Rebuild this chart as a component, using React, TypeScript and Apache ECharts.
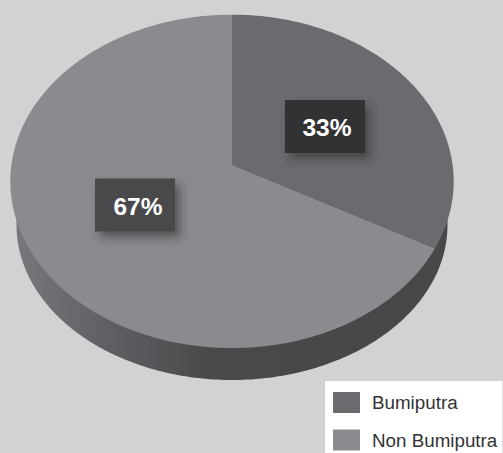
import React, { useEffect, useRef } from "react";
import * as echarts from "echarts";

const categories = ["Bumiputra", "Non Bumiputra"];
const shares = [33, 67];
const colors = ["#6a6b6f", "#8a8b8f"];
const labelFills = ["#333334", "#48494b"];
const labelCentres = [[325, 126.5], [135, 205]];
const labelTextOffsets = [[2, 1], [3, 1]];

// perspective projection of the pie's top face
const APEX = [232, 165];
const C = -0.0981, A = 148.9, K = 220.6;
const project = (u: number, v: number) => {
  const d = C * v + 1;
  return [APEX[0] + (K * u) / d, (A * v + APEX[1]) / d];
};
const total = shares.reduce((a, b) => a + b, 0);

const slicePoints = (i: number) => {
  const before = shares.slice(0, i).reduce((a, b) => a + b, 0);
  const a0 = (before / total) * Math.PI * 2;
  const a1 = ((before + shares[i]) / total) * Math.PI * 2;
  const pts: number[][] = [APEX];
  const steps = Math.ceil(shares[i] * 4);
  for (let k = 0; k <= steps; k++) {
    const t = a0 + ((a1 - a0) * k) / steps;
    pts.push(project(Math.sin(t), -Math.cos(t)));
  }
  return pts;
};

// lower rim of the disc
const sidePoints = () => {
  const cx = 232, cy = 225, rx = 215.5, ry = 155;
  const pts: number[][] = [];
  for (let k = 0; k < 360; k++) {
    const t = (k / 360) * Math.PI * 2;
    pts.push([cx + rx * Math.cos(t), cy + ry * Math.sin(t)]);
  }
  return pts;
};

const sliceSeries = (i: number) => ({
  type: "custom",
  name: categories[i],
  coordinateSystem: "none",
  data: [shares[i]],
  itemStyle: { color: colors[i] },
  z: 2 + i,
  renderItem: (_: any, api: any) => {
    const [lx, ly] = labelCentres[i];
    const [ox, oy] = labelTextOffsets[i];
    return {
      type: "group",
      children: [
        { type: "polygon", shape: { points: slicePoints(i) }, style: { fill: colors[i] } },
        {
          type: "rect",
          shape: { x: lx - 40, y: ly - 26.5, width: 80, height: 53 },
          style: {
            fill: labelFills[i],
            shadowBlur: 10,
            shadowOffsetX: 5,
            shadowOffsetY: 6,
            shadowColor: "rgba(40,40,42,0.55)",
          },
        },
        {
          type: "text",
          x: lx + ox,
          y: ly + oy,
          style: {
            text: `${api.value(0)}%`,
            fill: "#ffffff",
            font: 'bold 24.5px "Liberation Sans", Arial, sans-serif',
            align: "center",
            verticalAlign: "middle",
          },
        },
      ],
    };
  },
});

export default function App() {
  const ref = useRef<HTMLDivElement>(null);
  useEffect(() => {
    document.body.style.margin = "0";
    const chart = echarts.init(ref.current!, undefined, { renderer: "svg" });
    chart.setOption({
      animation: false,
      backgroundColor: "#d1d2d4",
      legend: {
        orient: "vertical",
        left: 325,
        top: 381,
        height: 200,
        data: categories,
        icon: "rect",
        itemWidth: 27,
        itemHeight: 21,
        itemGap: 16.5,
        padding: [11, 5, 10, 8],
        backgroundColor: "#ffffff",
        selectedMode: false,
        textStyle: {
          color: "#333335",
          fontFamily: '"Liberation Sans", Arial, sans-serif',
          fontSize: 18.8,
          padding: [0, 0, 3, 7],
        },
      },
      series: [
        {
          type: "custom",
          name: "side",
          coordinateSystem: "none",
          data: [total],
          z: 1,
          renderItem: () => ({
            type: "polygon",
            shape: { points: sidePoints() },
            style: {
              fill: new echarts.graphic.LinearGradient(0, 0, 1, 0, [
                { offset: 0, color: "#77787b" },
                { offset: 0.2, color: "#606164" },
                { offset: 0.45, color: "#48494b" },
                { offset: 1, color: "#464749" },
              ]),
            },
          }),
        },
        sliceSeries(0),
        sliceSeries(1),
      ],
    });
    return () => chart.dispose();
  }, []);
  return <div ref={ref} style={{ width: 503, height: 453, overflow: "hidden" }} />;
}
